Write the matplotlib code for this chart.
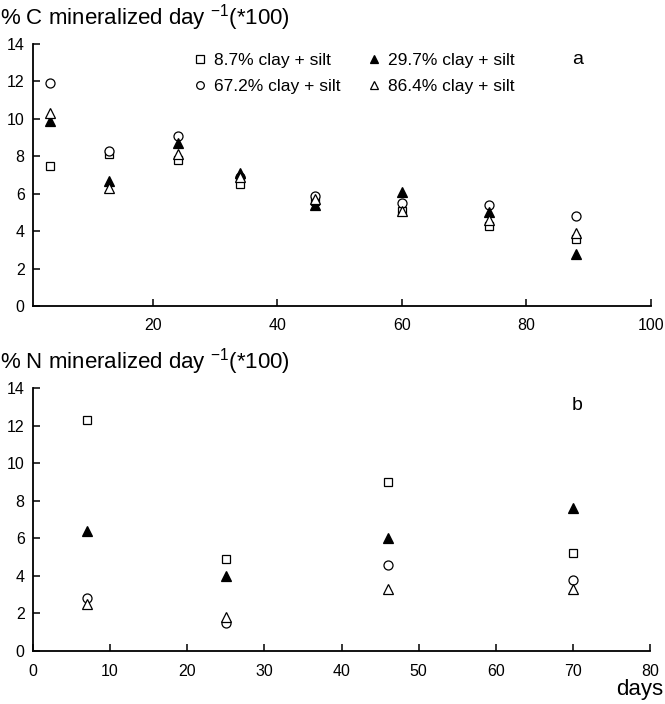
import numpy as np
import matplotlib
matplotlib.use("Agg")
import matplotlib.pyplot as plt

plt.rcParams['font.family'] = ['Liberation Sans', 'DejaVu Sans']

# ── panel a: C mineralization ────────────────────────────────────────────────
days_c = [3.5, 13, 24, 34, 46, 60, 74, 88]
c_87 = [7.5, 8.1, 7.8, 6.5, 5.6, 5.1, 4.3, 3.6]
c_297 = [9.9, 6.7, 8.7, 7.1, 5.4, 6.1, 5.0, 2.8]
c_672 = [11.9, 8.3, 9.1, 6.9, 5.9, 5.5, 5.4, 4.8]
c_864 = [10.3, 6.3, 8.1, 6.9, 5.7, 5.1, 4.6, 3.9]

# ── panel b: N mineralization ────────────────────────────────────────────────
days_n = [7, 25, 46, 70]
n_87 = [12.3, 4.9, 9.0, 5.2]
n_297 = [6.4, 4.0, 6.0, 7.6]
n_672 = [2.8, 1.5, 4.6, 3.8]
n_864 = [2.5, 1.8, 3.3, 3.3]

labels = ['8.7% clay + silt', '67.2% clay + silt',
          '29.7% clay + silt', '86.4% clay + silt']
yticks = [0, 2, 4, 6, 8, 10, 12, 14]

styles = {
    '8.7': dict(marker='s', mfc='white', mec='black', ms=6, mew=0.9),
    '67.2': dict(marker='o', mfc='white', mec='black', ms=6.5, mew=0.9),
    '29.7': dict(marker='^', mfc='black', mec='black', ms=7, mew=0.9),
    '86.4': dict(marker='^', mfc='white', mec='black', ms=7, mew=0.9),
}

fig = plt.figure(figsize=(6.65, 7.04), dpi=100)
W, H = 665., 704.
ax_a = fig.add_axes([33 / W, 1 - 306 / H, (651 - 33) / W, (306 - 44) / H])
ax_b = fig.add_axes([33 / W, 1 - 651 / H, (650 - 33) / W, (651 - 388) / H])


def style_axes(ax):
    for s in ['top', 'right']:
        ax.spines[s].set_visible(False)
    for s in ['left', 'bottom']:
        ax.spines[s].set_linewidth(1.3)
    ax.tick_params(direction='in', length=5, width=1.1, labelsize=11.5)
    ax.tick_params(axis='x', pad=9)
    ax.tick_params(axis='y', pad=6)
    ax.set_ylim(0, 14)
    ax.set_yticks(yticks)


# panel a
ax_a.plot(days_c, c_87, ls='none', **styles['8.7'], label=labels[0])
ax_a.plot(days_c, c_672, ls='none', **styles['67.2'], label=labels[1])
ax_a.plot(days_c, c_297, ls='none', **styles['29.7'], label=labels[2])
ax_a.plot(days_c, c_864, ls='none', **styles['86.4'], label=labels[3])
style_axes(ax_a)
ax_a.set_xlim(0.8, 100)
ax_a.set_xticks([20, 40, 60, 80, 100])
leg = ax_a.legend(ncol=2, frameon=False, fontsize=12.5, loc='upper left',
                  bbox_to_anchor=(0.232, 1.025), handletextpad=0.35,
                  columnspacing=1.5, labelspacing=0.6, handlelength=0.9,
                  markerscale=0.85)
ax_a.text(0.882, 0.94, 'a', transform=ax_a.transAxes, fontsize=14,
          ha='center', va='center')
fig.text(0.0, 1 - 18 / H, '% C mineralized day $^{\\mathregular{-1}}$(*100)',
         fontsize=16, ha='left', va='center')

# panel b
ax_b.plot(days_n, n_87, ls='none', **styles['8.7'])
ax_b.plot(days_n, n_672, ls='none', **styles['67.2'])
ax_b.plot(days_n, n_297, ls='none', **styles['29.7'])
ax_b.plot(days_n, n_864, ls='none', **styles['86.4'])
style_axes(ax_b)
ax_b.set_xlim(0, 80)
ax_b.set_xticks(range(0, 81, 10))
ax_b.text(0.882, 0.935, 'b', transform=ax_b.transAxes, fontsize=14,
          ha='center', va='center')
fig.text(0.0, 1 - 362 / H, '% N mineralized day $^{\\mathregular{-1}}$(*100)',
         fontsize=16, ha='left', va='center')
fig.text(1 - 2 / W, 1 - 689 / H, 'days', fontsize=16, ha='right',
         va='center')

fig.savefig('out.png', dpi=100)
